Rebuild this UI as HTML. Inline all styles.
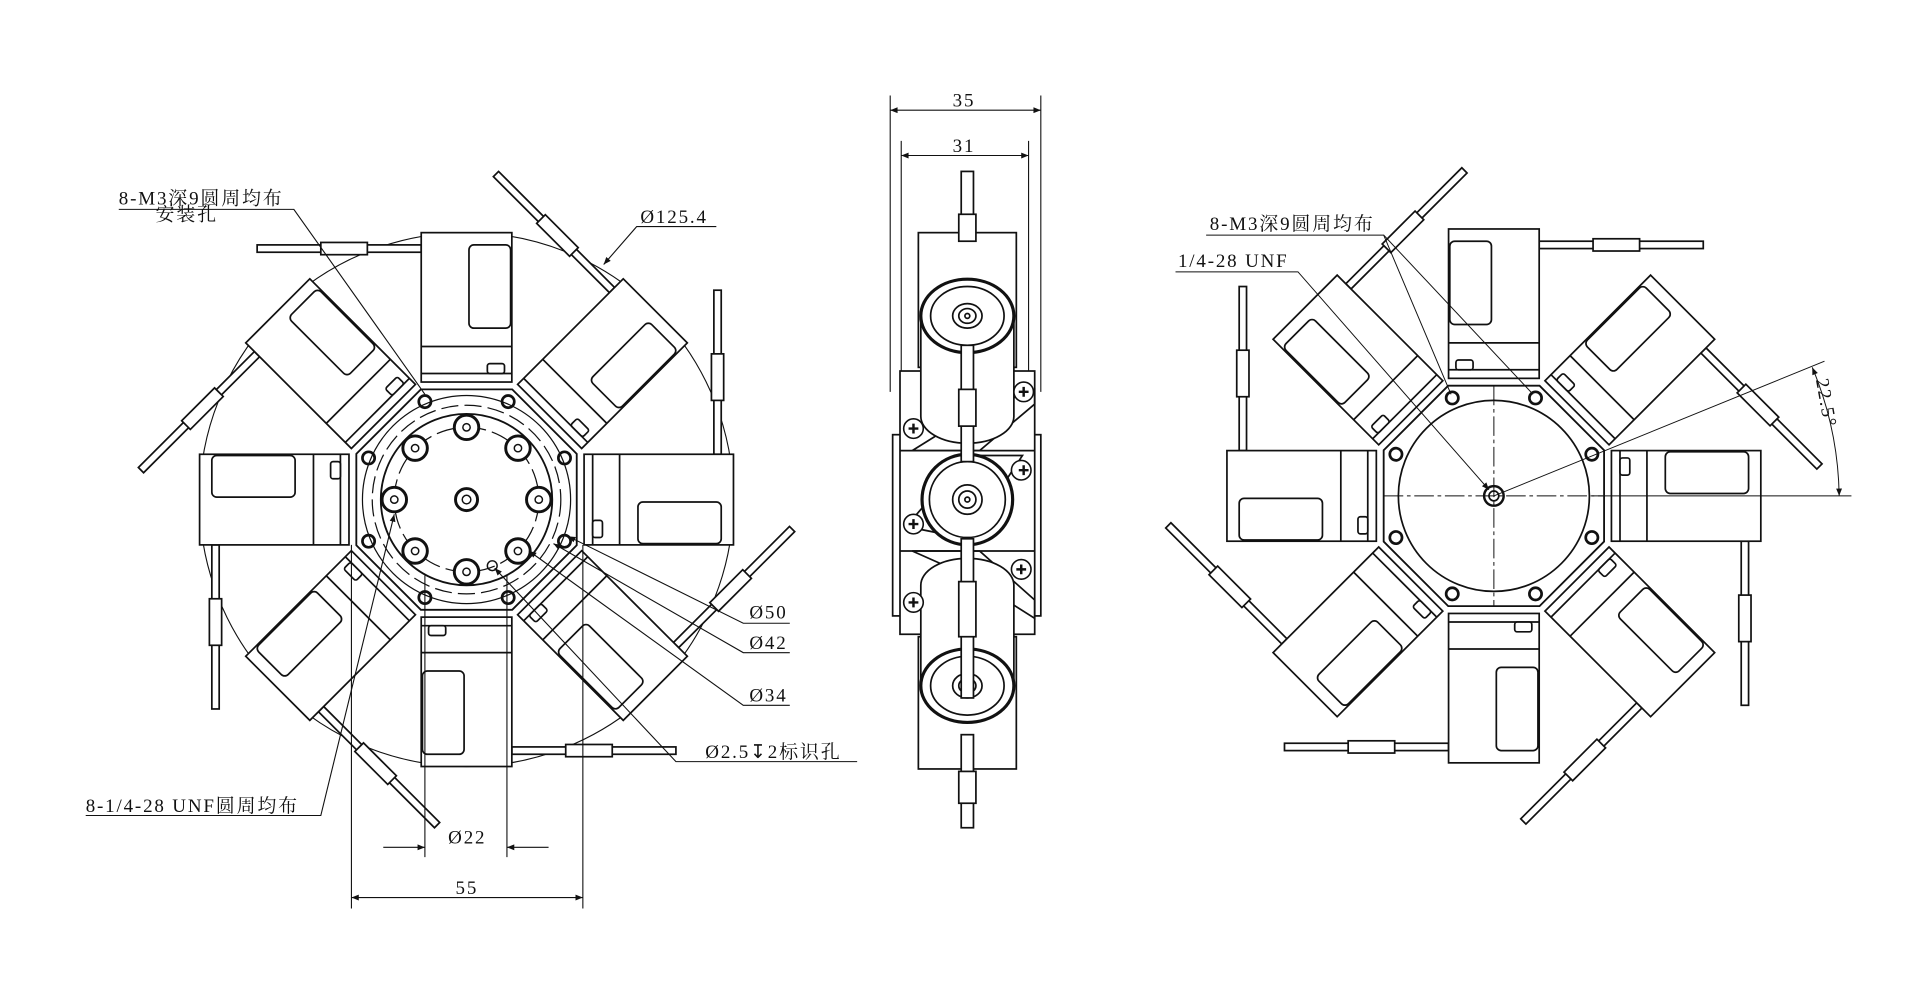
<!DOCTYPE html>
<html><head><meta charset="utf-8"><style>
html,body{margin:0;padding:0;background:#fff;}
svg{display:block}
text{font-family:"Liberation Serif","Noto Serif CJK SC",serif;fill:#111;font-size:15.5px;letter-spacing:1.5px}
</style></head><body>
<svg width="1920" height="1007" viewBox="0 0 1568 822.4" preserveAspectRatio="none" xmlns="http://www.w3.org/2000/svg">
<defs>
<g id="m" fill="#fff" stroke="#111" stroke-width="1.4">
 <rect x="-171" y="-208" width="134" height="6"/>
 <rect x="-119" y="-210" width="38" height="10"/>
 <rect x="-37" y="-218" width="74" height="122"/>
 <rect x="2" y="-208" width="34" height="68" rx="4"/>
 <line x1="-37" y1="-125" x2="37" y2="-125"/>
 <line x1="-37" y1="-103" x2="37" y2="-103"/>
 <rect x="17" y="-111" width="14" height="8" rx="2"/>
</g>
<marker id="ar" viewBox="0 0 10 10" refX="10" refY="5" markerWidth="9" markerHeight="6" orient="auto-start-reverse" markerUnits="userSpaceOnUse"><path d="M0,1 L10,5 L0,9z" fill="#111"/></marker>
<g id="oct"><polygon points="37.3,-90 90,-37.3 90,37.3 37.3,90 -37.3,90 -90,37.3 -90,-37.3 -37.3,-90" fill="#fff" stroke="#111" stroke-width="1.5"/></g>
<g id="mh" fill="none" stroke="#111" stroke-width="2.2">
 <circle cx="-34" cy="-80" r="5"/><circle cx="34" cy="-80" r="5"/><circle cx="-34" cy="80" r="5"/><circle cx="34" cy="80" r="5"/>
 <circle cx="-80" cy="-34" r="5"/><circle cx="80" cy="-34" r="5"/><circle cx="-80" cy="34" r="5"/><circle cx="80" cy="34" r="5"/>
</g>
</defs>

<!-- LEFT VIEW -->
<circle cx="381" cy="408" r="218" fill="none" stroke="#111" stroke-width="0.9"/>
<g transform="translate(381,408)">
 <use href="#m" transform="rotate(0)"/><use href="#m" transform="rotate(45)"/><use href="#m" transform="rotate(90)"/><use href="#m" transform="rotate(135)"/>
 <use href="#m" transform="rotate(180)"/><use href="#m" transform="rotate(225)"/><use href="#m" transform="rotate(270)"/><use href="#m" transform="rotate(315)"/>
 <use href="#oct"/>
 <circle r="85" fill="none" stroke="#111" stroke-width="1"/>
 <circle r="77" fill="none" stroke="#111" stroke-width="1" stroke-dasharray="14 5"/>
 <circle r="70" fill="none" stroke="#111" stroke-width="1.5"/>
 <circle r="59" fill="none" stroke="#111" stroke-width="1" stroke-dasharray="18 5"/>
 <use href="#mh"/>
 <g fill="#fff" stroke="#111" stroke-width="2.4">
  <circle cx="0" cy="0" r="9"/><circle cx="0" cy="-59" r="10"/><circle cx="0" cy="59" r="10"/><circle cx="-59" cy="0" r="10"/><circle cx="59" cy="0" r="10"/>
  <circle cx="-42" cy="-42" r="10"/><circle cx="42" cy="-42" r="10"/><circle cx="-42" cy="42" r="10"/><circle cx="42" cy="42" r="10"/>
 </g>
 <g fill="none" stroke="#111" stroke-width="1.2">
  <circle cx="0" cy="0" r="3.5"/><circle cx="0" cy="-59" r="3"/><circle cx="0" cy="59" r="3"/><circle cx="-59" cy="0" r="3"/><circle cx="59" cy="0" r="3"/>
  <circle cx="-42" cy="-42" r="3"/><circle cx="42" cy="-42" r="3"/><circle cx="-42" cy="42" r="3"/><circle cx="42" cy="42" r="3"/>
  <circle cx="21" cy="54" r="4"/>
 </g>
</g>
<g stroke="#111" stroke-width="0.9" fill="none">
 <polyline points="97,171 240,171 347,322"/>
 <polyline points="585,185 520,185 493,216" marker-end="url(#ar)"/>
 <polyline points="645,509 607,509 464,438" marker-end="url(#ar)"/>
 <polyline points="645,533 607,533 452,444" marker-end="url(#ar)"/>
 <polyline points="645,576 607,576 432,450" marker-end="url(#ar)"/>
 <polyline points="700,622 552,622 404,464" marker-end="url(#ar)"/>
 <polyline points="70,666 262,666 322,420" marker-end="url(#ar)"/>
 <line x1="347" y1="470" x2="347" y2="700"/><line x1="414" y1="470" x2="414" y2="700"/>
 <line x1="313" y1="692" x2="347" y2="692" marker-end="url(#ar)"/><line x1="448" y1="692" x2="414" y2="692" marker-end="url(#ar)"/>
 <line x1="287" y1="445" x2="287" y2="742"/><line x1="476" y1="445" x2="476" y2="742"/>
 <line x1="287" y1="733" x2="476" y2="733" marker-start="url(#ar)" marker-end="url(#ar)"/>
</g>
<text x="97" y="167">8-M3深9圆周均布</text>
<text x="127" y="180">安装孔</text>
<text x="523" y="182">Ø125.4</text>
<text x="612" y="505">Ø50</text>
<text x="612" y="530">Ø42</text>
<text x="612" y="573">Ø34</text>
<text x="576" y="619">Ø2.5↧2标识孔</text>
<text x="70" y="663">8-1/4-28 UNF圆周均布</text>
<text x="366" y="689">Ø22</text>
<text x="372" y="730">55</text>

<!-- MIDDLE VIEW -->
<g stroke="#111" stroke-width="0.9" fill="none">
 <line x1="727" y1="78" x2="727" y2="320"/><line x1="850" y1="78" x2="850" y2="320"/>
 <line x1="727" y1="90" x2="850" y2="90" marker-start="url(#ar)" marker-end="url(#ar)"/>
 <line x1="736" y1="115" x2="736" y2="320"/><line x1="840" y1="115" x2="840" y2="320"/>
 <line x1="736" y1="127" x2="840" y2="127" marker-start="url(#ar)" marker-end="url(#ar)"/>
</g>
<text x="778" y="87">35</text>
<text x="778" y="124">31</text>
<g stroke="#111" stroke-width="1.4" fill="#fff">
 <rect x="729" y="355" width="121" height="148"/>
 <rect x="735" y="303" width="110" height="215"/>
 <line x1="735" y1="368" x2="845" y2="368"/><line x1="735" y1="450" x2="845" y2="450"/>
 <polygon points="745,368 790,340 845,318 845,330 800,368" fill="none"/>
 <polygon points="740,430 790,372 835,372 790,440" fill="none"/>
 <polygon points="745,450 800,450 845,490 845,505 790,470" fill="none"/>
 <rect x="750" y="190" width="80" height="110"/>
 <rect x="750" y="520" width="80" height="108"/>
 <path d="M752,258 L752,340 A38,22 0 0 0 828,340 L828,258"/>
 <path d="M752,560 L752,478 A38,22 0 0 1 828,478 L828,560"/>
 <ellipse cx="790" cy="258" rx="38" ry="30" stroke-width="2.6"/>
 <ellipse cx="790" cy="258" rx="30" ry="24"/>
 <ellipse cx="790" cy="258" rx="12" ry="10"/><ellipse cx="790" cy="258" rx="7" ry="6"/><circle cx="790" cy="258" r="2"/>
 <circle cx="790" cy="408" r="37" stroke-width="2.6"/>
 <circle cx="790" cy="408" r="31"/><circle cx="790" cy="408" r="12"/><circle cx="790" cy="408" r="7"/><circle cx="790" cy="408" r="2"/>
 <ellipse cx="790" cy="560" rx="38" ry="30" stroke-width="2.6"/>
 <ellipse cx="790" cy="560" rx="30" ry="24"/>
 <ellipse cx="790" cy="560" rx="12" ry="10"/><ellipse cx="790" cy="560" rx="7" ry="6"/>
 <rect x="785" y="140" width="10" height="56"/>
 <rect x="783" y="175" width="14" height="22"/>
 <rect x="785" y="282" width="10" height="95"/><rect x="783" y="318" width="14" height="30"/>
 <rect x="785" y="440" width="10" height="130"/><rect x="783" y="475" width="14" height="45"/>
 <rect x="785" y="600" width="10" height="76"/><rect x="783" y="630" width="14" height="26"/>
</g>
<g stroke="#111" stroke-width="1.3" fill="#fff">
 <circle cx="746" cy="350" r="8"/><circle cx="836" cy="320" r="8"/><circle cx="834" cy="384" r="8"/><circle cx="746" cy="428" r="8"/><circle cx="834" cy="465" r="8"/><circle cx="746" cy="492" r="8"/>
</g>
<g stroke="#111" stroke-width="2">
 <path d="M742,350h8M746,346v8M832,384h8M836,380v8M742,428h8M746,424v8M830,465h8M834,461v8M742,492h8M746,488v8M832,320h8M836,316v8"/>
</g>

<!-- RIGHT VIEW -->
<g transform="translate(1220,405) scale(-1,1)">
 <use href="#m" transform="rotate(0)"/><use href="#m" transform="rotate(45)"/><use href="#m" transform="rotate(90)"/><use href="#m" transform="rotate(135)"/>
 <use href="#m" transform="rotate(180)"/><use href="#m" transform="rotate(225)"/><use href="#m" transform="rotate(270)"/><use href="#m" transform="rotate(315)"/>
 <use href="#oct"/>
 <circle r="78" fill="none" stroke="#111" stroke-width="1.4"/>
 <use href="#mh"/>
 <circle r="8" fill="none" stroke="#111" stroke-width="2"/><circle r="4" fill="none" stroke="#111" stroke-width="1.4"/>
</g>
<g stroke="#111" stroke-width="0.8" fill="none">
 <line x1="1130" y1="405" x2="1310" y2="405" stroke-dasharray="16 3 3 3"/>
 <line x1="1220" y1="315" x2="1220" y2="495" stroke-dasharray="16 3 3 3"/>
 <line x1="1220" y1="405" x2="1490" y2="295"/>
 <line x1="1300" y1="405" x2="1512" y2="405"/>
 <path d="M1480,300 A282,282 0 0 1 1502,405" marker-start="url(#ar)" marker-end="url(#ar)"/>
 <polyline points="985,192 1130,192 1185,322"/>
 <line x1="1130" y1="192" x2="1252" y2="322"/>
 <polyline points="960,222 1060,222 1216,400" marker-end="url(#ar)"/>
</g>
<text x="988" y="188">8-M3深9圆周均布</text>
<text x="962" y="218">1/4-28 UNF</text>
<text transform="translate(1483,310) rotate(80)">22.5°</text>
</svg>
</body></html>
